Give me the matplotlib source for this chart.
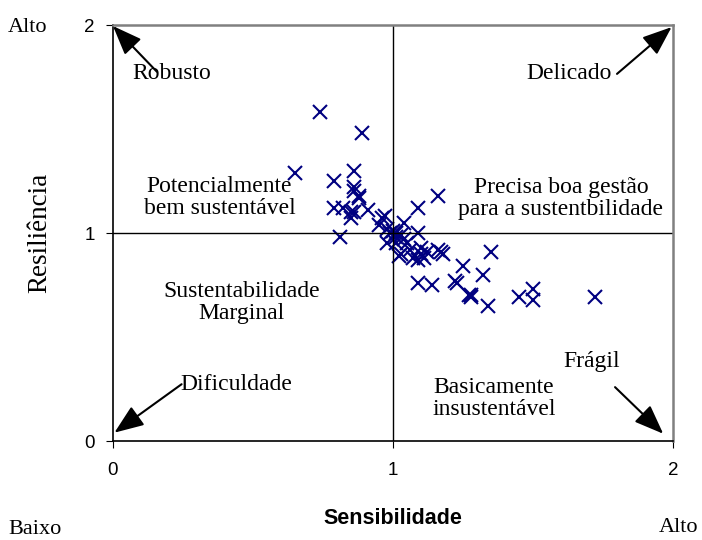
import matplotlib
matplotlib.use("Agg")
import matplotlib.pyplot as plt

# Sensibilidade (x) x Resiliência (y)
sens = [0.65, 0.74, 0.89, 0.79, 0.86, 0.86, 0.86, 0.88, 0.88, 0.79,
        0.82, 0.85, 0.85, 0.86, 0.81, 0.91, 0.96, 0.95, 0.98, 0.99,
        1.01, 1.03, 1.01, 0.98, 1.01, 1.04, 1.05, 1.04, 1.09, 1.16,
        1.09, 1.02, 1.03, 1.06, 1.07, 1.10, 1.10, 1.11, 1.09, 1.12,
        1.16, 1.17, 1.18, 1.25, 1.35, 1.32, 1.09, 1.14, 1.22, 1.23,
        1.27, 1.28, 1.28, 1.34, 1.45, 1.50, 1.50, 1.72, 0.97, 1.00]
resil = [1.29, 1.58, 1.48, 1.25, 1.30, 1.22, 1.20, 1.18, 1.17, 1.12,
         1.12, 1.10, 1.07, 1.10, 0.98, 1.11, 1.07, 1.04, 1.02, 1.00,
         1.00, 0.99, 0.98, 0.95, 0.95, 0.97, 0.95, 1.05, 1.12, 1.18,
         1.00, 0.89, 0.90, 0.92, 0.88, 0.93, 0.90, 0.88, 0.87, 0.91,
         0.92, 0.91, 0.90, 0.84, 0.91, 0.80, 0.76, 0.75, 0.77, 0.76,
         0.70, 0.69, 0.70, 0.65, 0.69, 0.73, 0.68, 0.69, 1.08, 1.01]

ticks = [0, 1, 2]

fig = plt.figure(figsize=(7.02, 5.4), dpi=100, facecolor='w')
ax = fig.add_axes([113 / 702, 1 - 441 / 540, 560 / 702, 416 / 540])

ax.plot(sens, resil, 'x', color='#000080', ms=9.5, mew=1.5, clip_on=False)

ax.axhline(1, color='black', lw=1)
ax.axvline(1, color='black', lw=1)

ax.set_xlim(0, 2)
ax.set_ylim(0, 2)
ax.set_xticks(ticks)
ax.set_yticks(ticks)
ax.tick_params(axis='x', direction='out', length=5, pad=10, labelsize=13.5)
ax.tick_params(axis='y', direction='out', length=5, pad=8, labelsize=13.5)
for lab in ax.get_xticklabels() + ax.get_yticklabels():
    lab.set_family('Liberation Sans')

for s in ('left', 'bottom'):
    ax.spines[s].set_color('black')
    ax.spines[s].set_linewidth(1.2)
for s in ('top', 'right'):
    ax.spines[s].set_color('#808080')
    ax.spines[s].set_linewidth(1.8)

serif = 'Liberation Serif'
txt = dict(family=serif, fontsize=17, ha='center', va='center', linespacing=1.05)

ax.text(0.21, 1.765, 'Robusto', **txt)
ax.text(1.63, 1.765, 'Delicado', **txt)
ax.text(0.38, 1.17, 'Potencialmente\nbem sustentável', **txt)
ax.text(1.60, 1.165, 'Precisa boa gestão\npara a sustentbilidade', **txt)
ax.text(0.46, 0.667, 'Sustentabilidade\nMarginal', **txt)
ax.text(0.44, 0.27, 'Dificuldade', **txt)
ax.text(1.71, 0.384, 'Frágil', **txt)
ax.text(1.36, 0.205, 'Basicamente\ninsustentável', **txt)

# corner arrows (tail -> head)
arrows = [((0.157, 1.775), (0.0, 1.995)),
          ((1.80, 1.765), (1.995, 1.99)),
          ((0.245, 0.273), (0.005, 0.04)),
          ((1.793, 0.259), (1.965, 0.035))]
for tail, head in arrows:
    ax.annotate('', xy=head, xytext=tail, annotation_clip=False,
                arrowprops=dict(arrowstyle='-|>,head_length=0.9,head_width=0.35',
                                mutation_scale=20, color='black', lw=1.5,
                                shrinkA=0, shrinkB=0))

fig.text(40 / 702, 1 - 233 / 540, 'Resiliência', family=serif, fontsize=19.5,
         rotation=90, ha='center', va='center')
fig.text(393 / 702, 1 - 518 / 540, 'Sensibilidade', family='Liberation Sans',
         fontsize=15.5, fontweight='bold', ha='center', va='center')
fig.text(8 / 702, 1 - 27 / 540, 'Alto', family=serif, fontsize=16, ha='left', va='center')
fig.text(8 / 702, 1 - 529 / 540, 'Baixo', family=serif, fontsize=16, ha='left', va='center')
fig.text(698 / 702, 1 - 527 / 540, 'Alto', family=serif, fontsize=16, ha='right', va='center')

fig.savefig('out.png', dpi=100, facecolor='w')
